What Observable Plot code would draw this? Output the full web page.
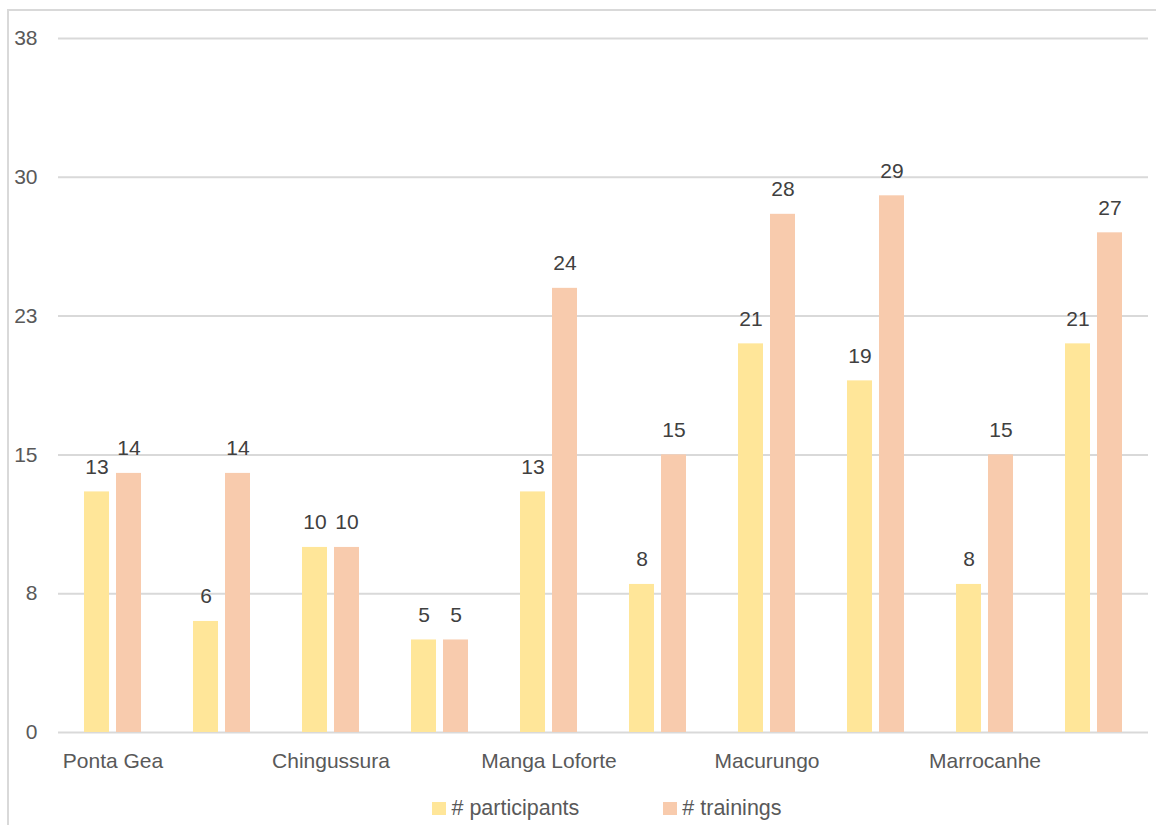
<!DOCTYPE html>
<html>
<head>
<meta charset="utf-8">
<script src="https://cdn.jsdelivr.net/npm/d3@7"></script>
<script src="https://cdn.jsdelivr.net/npm/@observablehq/plot@0.6"></script>
<style>
  html, body { margin: 0; padding: 0; background: #ffffff; }
  body { width: 1156px; height: 825px; position: relative; overflow: hidden;
         font-family: "Liberation Sans", Arial, sans-serif; }
  #frame { position: absolute; left: 7px; top: 9px; width: 1160px; height: 830px;
           border-left: 2px solid #d9d9d9; border-top: 2px solid #d9d9d9; box-sizing: border-box; }
  #chart { position: absolute; left: 0; top: 0; }
  #legend { position: absolute; left: 0; width: 1156px; top: 796px; height: 24px;
            display: flex; justify-content: center; align-items: center;
            font-size: 21.5px; color: #595959; padding-left: 58px; box-sizing: border-box; }
  .item { display: flex; align-items: center; margin: 0 42px; }
  .swatch { width: 14px; height: 13px; margin-right: 5px; }
</style>
</head>
<body>
<div id="frame"></div>
<div id="chart"></div>
<div id="legend"></div>
<script>
// Districts (only every other name is shown on the axis)
const districts = ["Ponta Gea", "", "Chingussura", "", "Manga Loforte", "", "Macurungo", "", "Marrocanhe", ""];
const participants = [13, 6, 10, 5, 13, 8, 21, 19, 8, 21];
const trainings = [14, 14, 10, 5, 24, 15, 28, 29, 15, 27];
const seriesNames = ["# participants", "# trainings"];
const seriesColors = ["#FFE699", "#F8CBAD"];
const yTicks = [0, 7.5, 15, 22.5, 30, 37.5];

const rows = [];
districts.forEach((name, i) => {
  rows.push({group: i, series: seriesNames[0], value: participants[i]});
  rows.push({group: i, series: seriesNames[1], value: trainings[i]});
});

const chart = Plot.plot({
  width: 1156,
  height: 790,
  marginTop: 38,
  marginBottom: 58,
  marginLeft: 58,
  marginRight: 8,
  style: {fontFamily: "'Liberation Sans', Arial, sans-serif", fontSize: "21px", color: "#595959", background: "transparent"},
  fx: {domain: d3.range(districts.length), padding: 0},
  x: {domain: seriesNames, paddingInner: 0.234, paddingOuter: 0.82, axis: null},
  y: {domain: [0, 37.5]},
  color: {domain: seriesNames, range: seriesColors},
  marks: [
    Plot.gridY(yTicks, {stroke: "#d9d9d9", strokeWidth: 2, strokeOpacity: 1}),
    Plot.axisY(yTicks, {tickSize: 0, tickPadding: 21, tickFormat: d => Math.round(d), fill: "#595959", label: null}),
    Plot.axisFx({anchor: "bottom", tickSize: 0, tickPadding: 21, tickFormat: i => districts[i], fill: "#595959", label: null}),
    Plot.barY(rows, {fx: "group", x: "series", y: "value", fill: "series"}),
    Plot.text(rows, {fx: "group", x: "series", y: "value", text: d => String(d.value), dy: -25, fill: "#404040"})
  ]
});
document.getElementById("chart").appendChild(chart);

const legend = document.getElementById("legend");
seriesNames.forEach((name, i) => {
  const item = document.createElement("div");
  item.className = "item";
  const sw = document.createElement("span");
  sw.className = "swatch";
  sw.style.background = seriesColors[i];
  const label = document.createElement("span");
  label.textContent = name;
  item.appendChild(sw);
  item.appendChild(label);
  legend.appendChild(item);
});
</script>
</body>
</html>
